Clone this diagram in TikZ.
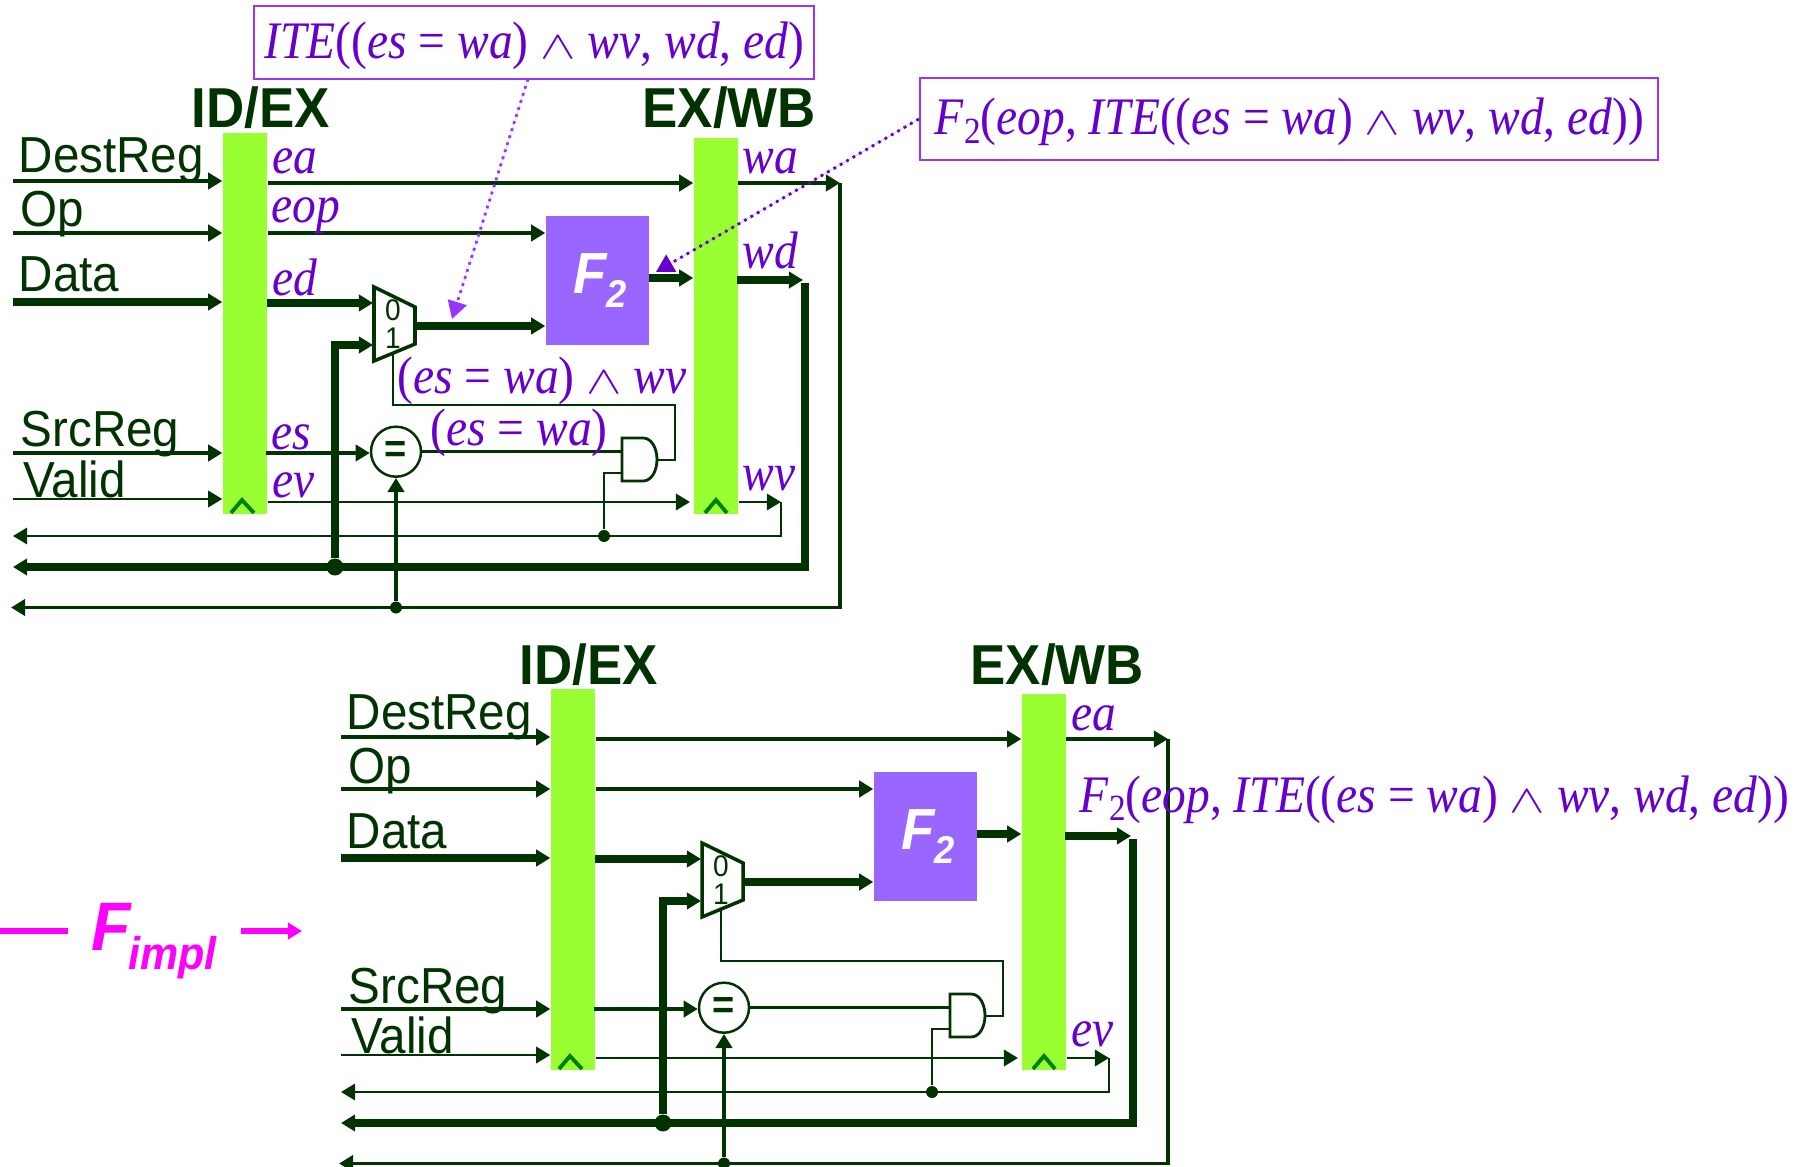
\documentclass[tikz,border=0pt]{standalone}
\usepackage{fontspec}
\setmainfont[FakeStretch=0.9]{Liberation Serif}
\setsansfont[FakeStretch=0.94]{Liberation Sans}
\usepackage{xcolor}
\usetikzlibrary{arrows.meta}
\definecolor{wirecol}{RGB}{0,51,0}
\definecolor{regfill}{RGB}{153,255,51}
\definecolor{clockcol}{RGB}{0,128,0}
\definecolor{funcfill}{RGB}{153,102,255}
\definecolor{termcol}{RGB}{102,0,204}
\definecolor{notecol}{RGB}{153,51,255}
\definecolor{implcol}{RGB}{255,0,255}
\def\ital(#1){\textit{#1}}
\def\andsign{\scalebox{1.05}[0.78]{$\wedge$}}
\def\cond{(\ital(es) = \ital(wa))}
\def\iteterm{\ital(ITE)(\cond{} \andsign{} \ital(wv), \ital(wd), \ital(ed))}
\def\fterm{\ital(F)\raisebox{-2.5pt}{\fontsize{10.5}{11}\selectfont 2}(\ital(eop), \iteterm)}
\tikzstyle{pipebar} = [rectangle, fill=regfill, minimum width=0.44cm, inner sep=0pt]
\tikzstyle{funcbox} = [rectangle, fill=funcfill, minimum width=1.03cm, minimum height=1.29cm, inner sep=0pt, text=white, font=\sffamily\bfseries\itshape]
\tikzstyle{header} = [anchor=base west, inner sep=0pt, text=wirecol, font=\sffamily\bfseries\fontsize{16}{18}\selectfont]
\tikzstyle{wirename} = [anchor=base west, inner sep=0pt, yshift=-0.02cm, text=wirecol, font=\sffamily\fontsize{14.4}{16}\selectfont]
\tikzstyle{term} = [anchor=base west, inner sep=0pt, yshift=-0.03cm, text=termcol, font=\fontsize{15}{17}\selectfont]
\tikzstyle{notebox} = [rectangle, draw=notecol, line width=0.5pt, inner sep=0pt]
\tikzstyle{muxdigit} = [inner sep=0pt, text=wirecol, font=\sffamily\fontsize{8.5}{9}\selectfont]
\tikzstyle{eqgate} = [circle, draw=wirecol, line width=0.7pt, minimum size=0.5cm, inner sep=0pt, text=wirecol, font=\sffamily\bfseries\fontsize{11.5}{11}\selectfont]
\tikzstyle{joint} = [circle, fill=wirecol, minimum size=0.12cm, inner sep=0pt]
\tikzstyle{arrow} = [-{Triangle[length=4pt,width=4.6pt]}]
\tikzstyle{thinw} = [draw=wirecol, line width=0.8pt]
\tikzstyle{medw} = [draw=wirecol, line width=1pt]
\tikzstyle{busw} = [draw=wirecol, line width=2.1pt]
\tikzstyle{caret} = [draw=clockcol, line width=1.1pt]
\tikzstyle{note} = [line width=0.8pt, dash pattern=on 0.8pt off 1.3pt, -{Triangle[length=5pt,width=5.5pt]}]
\newcommand{\stagepath}{%
      \draw (245,323.5) node (idex) [pipebar, minimum height=3.81cm] {};
      \draw (716,326) node (exwb) [pipebar, minimum height=3.76cm] {};
      \draw (597.5,280.5) node (ffunc) [funcbox] {\hspace{1.5pt}\raisebox{-1.5pt}{\fontsize{16.5}{16}\selectfont F\raisebox{-3.8pt}{\fontsize{11}{11}\selectfont 2}}};
      \draw (396,451.7) node (eq) [eqgate] {\raisebox{-2.6pt}{=}};
      \draw (393,310) node (muxa) [muxdigit] {0};
      \draw (393,338) node (muxb) [muxdigit] {1};
      \draw (335,567) node (busdot) [joint, minimum size=0.17cm] {};
      \draw (604,536) node (wvdot) [joint] {};
      \draw (396,607.5) node (wadot) [joint] {};
      \node (idexname) [header] at (191,128) {ID/EX};
      \node (exwbname) [header] at (642,128) {EX/WB};
      \node (destname) [wirename] at (18,171) {DestReg};
      \node (opname) [wirename] at (20,225) {Op};
      \node (dataname) [wirename] at (18,290) {Data};
      \node (srcname) [wirename] at (20,445) {SrcReg};
      \node (validname) [wirename] at (23,495) {Valid};
      %%%%%%%%%%%%%%%%%%%%%%%%%%%%%%%%%%%%%%%
      \coordinate (destin) at (13,181);
      \coordinate (opin) at (13,233);
      \coordinate (datain) at (13,302);
      \coordinate (srcin) at (13,453);
      \coordinate (validin) at (13,499);
      \coordinate (eaout) at (268,183);
      \coordinate (eopout) at (268,233);
      \coordinate (edout) at (267,303);
      \coordinate (esout) at (266,453);
      \coordinate (evout) at (268,502);
      \coordinate (evtip) at (690,502);
      \coordinate (muxin) at (373,303);
      \coordinate (muxup) at (335,345);
      \coordinate (muxinb) at (373,345);
      \coordinate (muxout) at (415,326);
      \coordinate (muxfoot) at (393,353);
      \coordinate (ffout) at (649,278);
      \coordinate (waout) at (738,183);
      \coordinate (waturn) at (840,183);
      \coordinate (wacorner) at (840,607.5);
      \coordinate (waend) at (11,607.5);
      \coordinate (wdout) at (737,280);
      \coordinate (wdtip) at (803,280);
      \coordinate (wdturn) at (805,283);
      \coordinate (wdcorner) at (805,567);
      \coordinate (wdend) at (13,567);
      \coordinate (wvout) at (739,502);
      \coordinate (wvturn) at (781,502);
      \coordinate (wvcorner) at (781,536);
      \coordinate (wvend) at (13,536);
      \coordinate (andhigh) at (622,451.7);
      \coordinate (andlow) at (622,473);
      \coordinate (andout) at (657,460);
      \coordinate (ctltop) at (675,405);
      %%%%%%%%%%%%%%%%%%%%%%%%%%%%%%%%%%%%%%%
      \draw[medw, arrow] (destin)--(destin -| idex.west);
      \draw[medw, arrow] (opin)--(opin -| idex.west);
      \draw[busw, arrow] (datain)--(datain -| idex.west);
      \draw[medw, arrow] (srcin)--(srcin -| idex.west);
      \draw[thinw, arrow] (validin)--(validin -| idex.west);
      \draw[medw, arrow] (eaout)--(eaout -| exwb.west);
      \draw[medw, arrow] (eopout)--(eopout -| ffunc.west);
      \draw[busw, arrow] (edout)--(muxin);
      \draw[medw, arrow] (esout)--(esout -| eq.west);
      \draw[thinw, arrow] (evout)--(evtip);
      \draw[busw, arrow] (busdot)--(muxup)--(muxinb);
      \draw[busw, arrow] (muxout)--(muxout -| ffunc.west);
      \draw[busw, arrow] (ffout)--(ffout -| exwb.west);
      \draw[medw, arrow] (waout)--(waturn);
      \draw[medw, arrow] (waturn)--(wacorner)--(waend);
      \draw[busw, arrow] (wdout)--(wdtip);
      \draw[busw, arrow] (wdturn)--(wdcorner)--(wdend);
      \draw[thinw, arrow] (wvout)--(wvturn);
      \draw[thinw, arrow] (wvturn)--(wvcorner)--(wvend);
      \draw[medw, arrow] (wadot)--(eq.south);
      \draw[thinw] (eq.east |- andhigh)--(andhigh);
      \draw[thinw] (andlow) -| (wvdot);
      \draw[thinw] (andout) -| (ctltop) -| (muxfoot);
      %%%%%%%%%%%%%%%%%%%%%%%%%%%%%%%%%%%%%%%
      \draw[medw] (374,287)--(415,307)--(415,344)--(374,361)--cycle;
      \draw[thinw] (622,438)--(643,438) .. controls (652,438) and (657,449) .. (657,459.5) .. controls (657,470) and (652,481) .. (643,481)--(622,481)--cycle;
      \draw[caret] (231,513)--(242,500)--(254,513);
      \draw[caret] (705,513)--(716,500)--(727,513);
}
\begin{document}
\begin{tikzpicture}[x=0.01cm,y=-0.01cm]
      \useasboundingbox (0,0) rectangle (1800,1167);
      \stagepath
      \begin{scope}[shift={(328,556)}, name prefix=lo-]
      \stagepath
      \node (loea) [term] at (743,171) {\ital(ea)};
      \node (loev) [term] at (743,487) {\ital(ev)};
      \end{scope}
      %%%%%%%%%%%%%%%%%%%%%%%%%%%%%%%%%%%%%%%
      \node (ea) [term] at (272,171) {\ital(ea)};
      \node (eop) [term] at (271,220) {\ital(eop)};
      \node (ed) [term] at (272,292.5) {\ital(ed)};
      \node (es) [term] at (271,446) {\ital(es)};
      \node (ev) [term] at (272,494) {\ital(ev)};
      \node (wa) [term] at (742,171) {\ital(wa)};
      \node (wd) [term] at (742,266) {\ital(wd)};
      \node (wv) [term] at (742,487) {\ital(wv)};
      \node (selterm) [term] at (397,390) {\cond{} \andsign{} \ital(wv)};
      \node (eqterm) [term] at (430,442) {\cond};
      \node (loterm) [term] at (1079,809) {\fterm};
      \draw (534,42.3) node (itebox) [notebox, minimum width=5.6cm, minimum height=0.73cm] {};
      \draw (1289,119) node (fbox) [notebox, minimum width=7.38cm, minimum height=0.82cm] {};
      \node (itetext) [term] at (264,55.5) {\iteterm};
      \node (ftext) [term] at (934,132) {\fterm};
      \coordinate (itefoot) at (528,79);
      \coordinate (itetip) at (452,319);
      \coordinate (ftip) at (656,272);
      \draw[note, draw=notecol, fill=notecol] (itefoot)--(itetip);
      \draw[note, draw=termcol, fill=termcol] (fbox.west)--(ftip);
      %%%%%%%%%%%%%%%%%%%%%%%%%%%%%%%%%%%%%%%
      \coordinate (fimplstart) at (0,931);
      \coordinate (fimplstop) at (68,931);
      \coordinate (fimplnext) at (241,931);
      \coordinate (fimplhead) at (302,931);
      \node (fimpl) [anchor=base west, inner sep=0pt, text=implcol, font=\sffamily\bfseries\itshape] at (91,950) {\fontsize{19.5}{18}\selectfont F\hspace{-0.8pt}\raisebox{-5.5pt}{\fontsize{13}{12}\selectfont impl}};
      \draw[implcol, line width=1.7pt] (fimplstart)--(fimplstop);
      \draw[implcol, line width=1.7pt, arrow] (fimplnext)--(fimplhead);
\end{tikzpicture}
\end{document}
